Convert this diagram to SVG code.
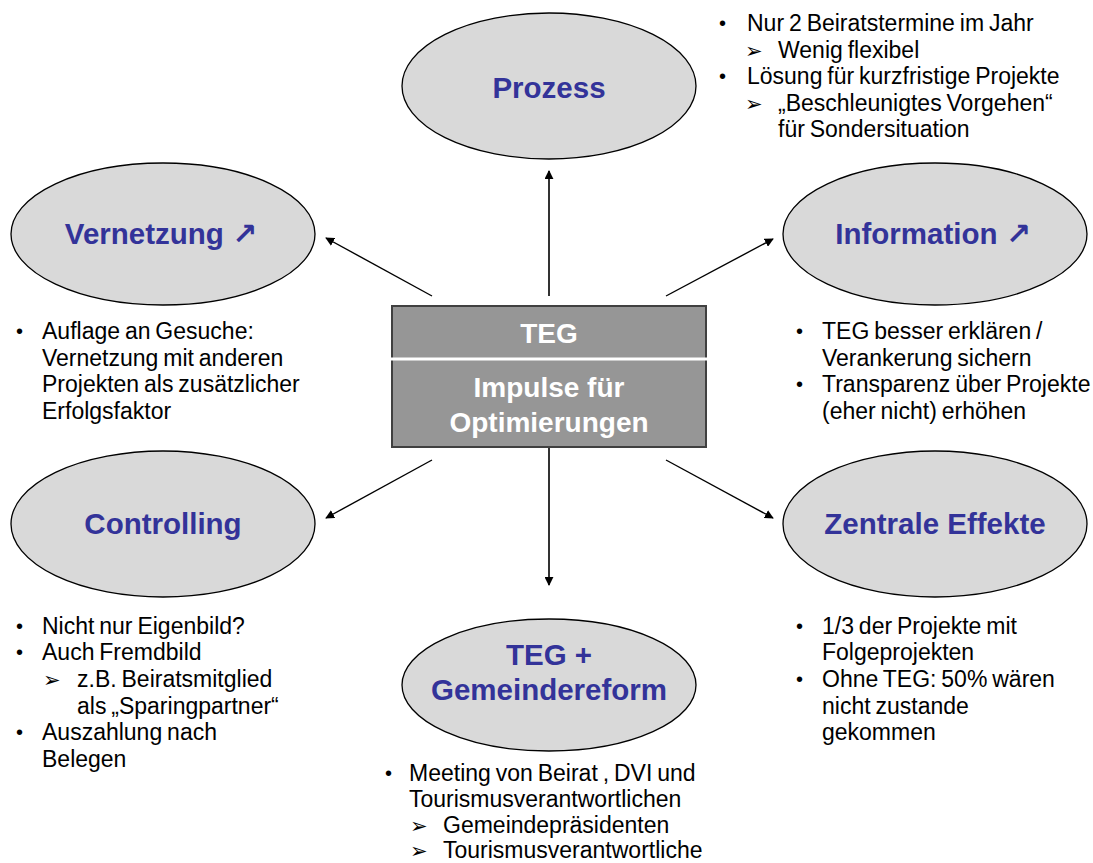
<svg xmlns="http://www.w3.org/2000/svg" width="1093" height="863" viewBox="0 0 1093 863">
<style>
.ell{fill:#d9d9d9;stroke:#000;stroke-width:1.3}
.lbl{font-family:"Liberation Sans",Arial,sans-serif;font-weight:bold;font-size:29.5px;fill:#333399;text-anchor:middle}
.arr{font-family:"DejaVu Sans",sans-serif;font-weight:bold;font-size:30px}
.box{font-family:"Liberation Sans",Arial,sans-serif;font-weight:bold;font-size:28px;fill:#fff;text-anchor:middle}
.t{font-family:"Liberation Sans",Arial,sans-serif;font-size:23px;fill:#000;word-spacing:-1.5px}
.b{font-family:"Liberation Sans",Arial,sans-serif;font-size:20px;fill:#000}
.sym{font-family:"DejaVu Sans",sans-serif;font-size:21px;fill:#000}
.con{stroke:#000;stroke-width:1.4;fill:none;marker-end:url(#ah)}
.vcon{stroke:#333;stroke-width:2;fill:none;marker-end:url(#ah)}
</style>
<defs>
<marker id="ah" viewBox="0 0 10 10" refX="9" refY="5" markerWidth="9" markerHeight="9" markerUnits="userSpaceOnUse" orient="auto"><path d="M0,0 L10,5 L0,10 z" fill="#000"/></marker>
</defs>
<rect width="1093" height="863" fill="#fff"/>
<g id="connectors">
<line class="vcon" x1="549" y1="296" x2="549" y2="171"/>
<line class="con" x1="432" y1="296" x2="326" y2="238"/>
<line class="con" x1="666" y1="296" x2="773" y2="239"/>
<line class="con" x1="432" y1="460" x2="326" y2="518"/>
<line class="con" x1="666" y1="460" x2="773" y2="518"/>
<line class="vcon" x1="549" y1="447" x2="549" y2="585"/>
</g>
<g id="center">
<rect x="392" y="306" width="314" height="141" fill="#969696" stroke="#404040" stroke-width="2"/>
<line x1="390" y1="359" x2="708" y2="359" stroke="#fff" stroke-width="3"/>
<text class="box" x="549" y="343">TEG</text>
<text class="box" x="549" y="397">Impulse für</text>
<text class="box" x="549" y="432">Optimierungen</text>
</g>
<g id="prozess">
<ellipse class="ell" cx="549" cy="86" rx="147" ry="73"/>
<text class="lbl" x="549" y="98">Prozess</text>
<text class="b" x="719" y="30">•</text><text class="t" x="747" y="31">Nur 2 Beiratstermine im Jahr</text>
<text class="sym" x="745" y="57.5">➢</text><text class="t" x="778" y="57.5">Wenig flexibel</text>
<text class="b" x="719" y="83">•</text><text class="t" x="747" y="84">Lösung für kurzfristige Projekte</text>
<text class="sym" x="745" y="110.5">➢</text><text class="t" x="778" y="110.5">„Beschleunigtes Vorgehen“</text>
<text class="t" x="778" y="137">für Sondersituation</text>
</g>
<g id="vernetzung">
<ellipse class="ell" cx="163" cy="234" rx="152" ry="71"/>
<text class="lbl" x="161" y="244">Vernetzung <tspan class="arr">↗</tspan></text>
<text class="b" x="16" y="338">•</text>
<text class="t" x="42" y="339">Auflage an Gesuche:</text>
<text class="t" x="42" y="365.5">Vernetzung mit anderen</text>
<text class="t" x="42" y="392">Projekten als zusätzlicher</text>
<text class="t" x="42" y="418.5">Erfolgsfaktor</text>
</g>
<g id="information">
<ellipse class="ell" cx="935" cy="234" rx="152" ry="71"/>
<text class="lbl" x="933" y="244">Information <tspan class="arr">↗</tspan></text>
<text class="b" x="796" y="338">•</text>
<text class="t" x="822" y="339">TEG besser erklären /</text>
<text class="t" x="822" y="365.5">Verankerung sichern</text>
<text class="b" x="796" y="391">•</text>
<text class="t" x="822" y="392">Transparenz über Projekte</text>
<text class="t" x="822" y="418.5">(eher nicht) erhöhen</text>
</g>
<g id="controlling">
<ellipse class="ell" cx="163" cy="524" rx="152" ry="73"/>
<text class="lbl" x="163" y="534">Controlling</text>
<text class="b" x="16" y="633">•</text>
<text class="t" x="42" y="634">Nicht nur Eigenbild?</text>
<text class="b" x="16" y="659">•</text>
<text class="t" x="42" y="660">Auch Fremdbild</text>
<text class="sym" x="43" y="687">➢</text><text class="t" x="77" y="687">z.B. Beiratsmitglied</text>
<text class="t" x="77" y="713.5">als „Sparingpartner“</text>
<text class="b" x="16" y="739">•</text>
<text class="t" x="42" y="740">Auszahlung nach</text>
<text class="t" x="42" y="766.5">Belegen</text>
</g>
<g id="zentrale">
<ellipse class="ell" cx="935" cy="524" rx="152" ry="73"/>
<text class="lbl" x="935" y="534">Zentrale Effekte</text>
<text class="b" x="796" y="633">•</text>
<text class="t" x="822" y="634">1/3 der Projekte mit</text>
<text class="t" x="822" y="660">Folgeprojekten</text>
<text class="b" x="796" y="686">•</text>
<text class="t" x="822" y="687">Ohne TEG: 50% wären</text>
<text class="t" x="822" y="713.5">nicht zustande</text>
<text class="t" x="822" y="740">gekommen</text>
</g>
<g id="gemeindereform">
<ellipse class="ell" cx="549" cy="685" rx="147" ry="66"/>
<text class="lbl" x="549" y="665">TEG +</text>
<text class="lbl" x="549" y="700">Gemeindereform</text>
<text class="b" x="385" y="780">•</text>
<text class="t" x="409" y="781">Meeting von Beirat , DVI und</text>
<text class="t" x="409" y="807">Tourismusverantwortlichen</text>
<text class="sym" x="410" y="833">➢</text><text class="t" x="443" y="833">Gemeindepräsidenten</text>
<text class="sym" x="410" y="858">➢</text><text class="t" x="443" y="858">Tourismusverantwortliche</text>
</g>
</svg>
